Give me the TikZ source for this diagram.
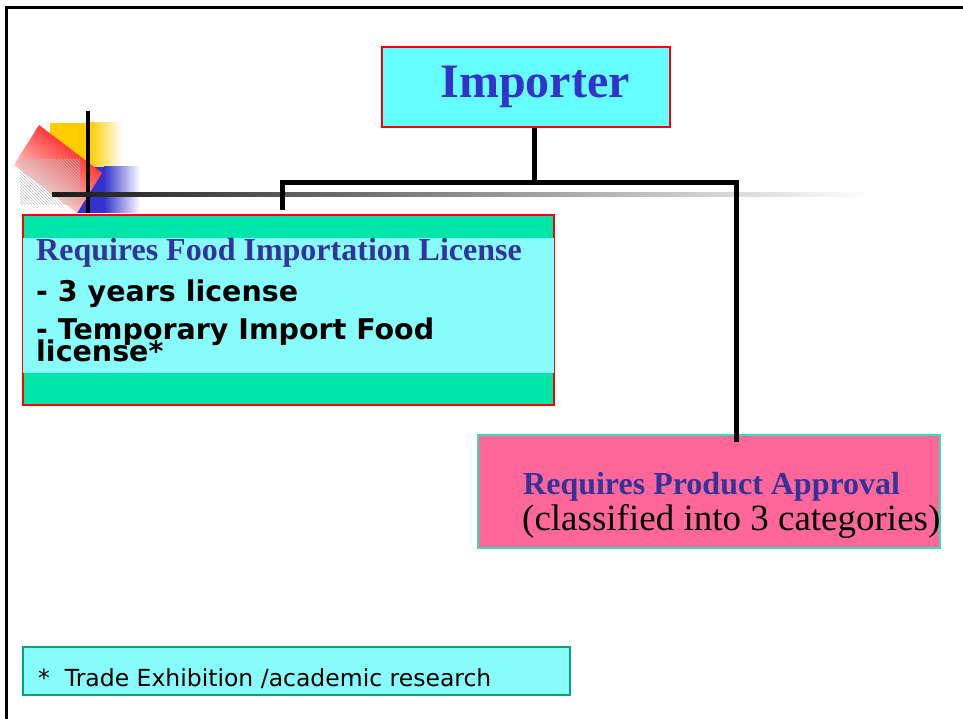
\documentclass[tikz,border=0pt]{standalone}
\usepackage{fontspec}
\setmainfont{Liberation Serif}
\newfontfamily\bodysans{DejaVu Sans}
\usetikzlibrary{patterns}

\definecolor{importfill}{HTML}{66FFFF}
\definecolor{textblue}{HTML}{333399}
\definecolor{importblue}{HTML}{3333CC}
\definecolor{licgreen}{HTML}{00E6A8}
\definecolor{licband}{HTML}{88FCFA}
\definecolor{apppink}{HTML}{FF6699}
\definecolor{appedge}{HTML}{33E0B0}
\definecolor{noteedge}{HTML}{00A878}
\definecolor{bulletyellow}{HTML}{FFCC00}
\definecolor{bulletblue}{HTML}{3333CC}

\begin{document}
\begin{tikzpicture}[x=1pt, y=-1pt,
    box/.style={rectangle, inner sep=0pt, line width=1.3pt},
    conn/.style={line width=5pt, line join=miter},
    head/.style={font=\fontsize{32}{32}\selectfont\bfseries, text=textblue, inner sep=0pt, anchor=base west},
    item/.style={font=\bodysans\fontsize{28.5}{28.5}\selectfont\bfseries, inner sep=0pt, anchor=base west}]

    \useasboundingbox (0,0) rectangle (963,719);

    % slide frame
    \draw[line width=3pt] (6.5,719) -- (6.5,8) -- (963,8);

    % bullet ornament
    \fill[bulletyellow] (50,123) rectangle (90,167);
    \shade[left color=bulletyellow, right color=white] (90,123) rectangle (122,167);
    \fill[bulletblue] (77,167) rectangle (104,213);
    \shade[left color=bulletblue, right color=white] (104,167) rectangle (140,213);
    \shade[top color=red, middle color=red!45, bottom color=white, shading angle=-37]
        (39,125) -- (102,173) -- (77,213) -- (14,165) -- cycle;
    \fill[pattern=north west lines, pattern color=gray!50] (20,160) rectangle (80,205);
    \draw[line width=4pt] (88,111) -- (88,213);
    \shade[left color=black!90, middle color=black!25, right color=white] (52,193) rectangle (870,197);

    % boxes
    \node[box, draw=red, fill=importfill, minimum width=288, minimum height=80,
          font=\fontsize{48}{48}\selectfont\bfseries, text=importblue] (importer) at (526,87) {\hspace*{18pt}Importer};

    \node[box, draw=red, fill=licgreen, minimum width=531, minimum height=190] (licence) at (288.5,310) {};
    \fill[licband] ([shift={(1,24)}]licence.north west) rectangle ([shift={(-1,-33)}]licence.south east);
    \node[head] (lichead) at (36,261) {Requires Food Importation License};
    \node[item] (licyears) at (36,301) {- 3 years license};
    \node[item] (lictemp) at (36,339) {- Temporary Import Food};
    \node[item] (licstar) at (36,361) {license*};

    \node[box, draw=appedge, fill=apppink, minimum width=462, minimum height=113] (approval) at (709,491.5) {};
    \node[head] (apphead) at (523,494) {Requires Product Approval};
    \node[font=\fontsize{37}{37}\selectfont, inner sep=0pt, anchor=base west] (appnote) at (522,530) {(classified into 3 categories)};

    \node[box, draw=noteedge, fill=licband, minimum width=547, minimum height=48] (note) at (296.5,671) {};
    \node[font=\bodysans\fontsize{23.5}{23.5}\selectfont, inner sep=0pt, anchor=base west] (notetext) at (38,686) {*\ \ Trade Exhibition /academic research};

    % connectors
    \coordinate (hub) at (534,183);
    \draw[conn] ([xshift=8pt]importer.south) -- (hub);
    \draw[conn] ([xshift=-6.5pt, yshift=4pt]licence.north) |- ([xshift=27pt]approval.north |- hub)
        -- ([xshift=27pt, yshift=-8pt]approval.north);
\end{tikzpicture}
\end{document}
